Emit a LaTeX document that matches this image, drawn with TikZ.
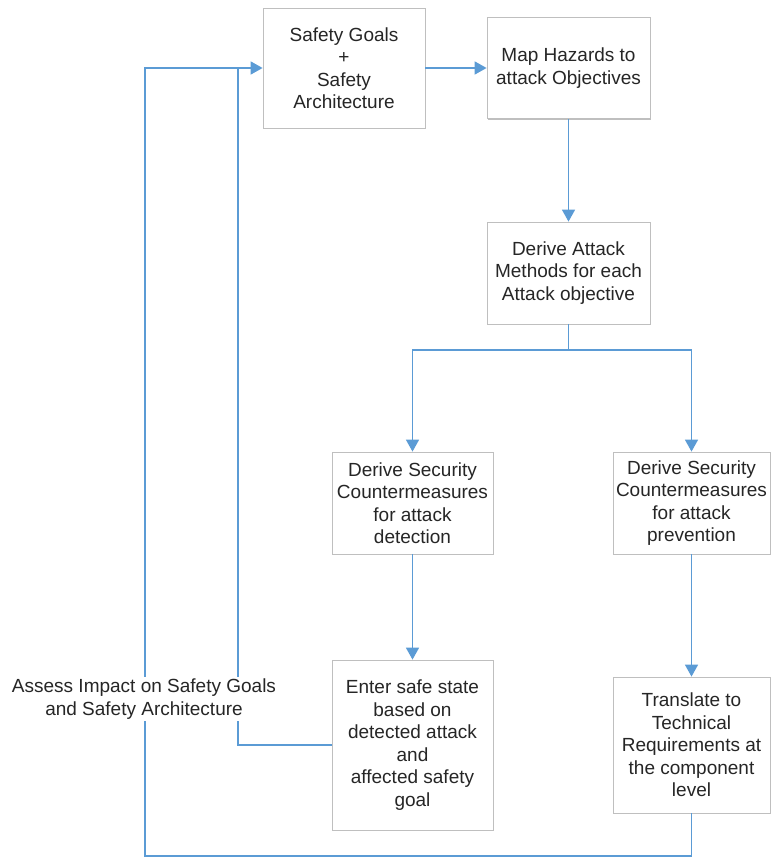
\documentclass[tikz,border=0pt]{standalone}
\usepackage{fontspec}
\setmainfont{Liberation Sans}
\usetikzlibrary{arrows.meta,shadows,calc}
\definecolor{flow}{HTML}{5B9BD5}
\definecolor{frame}{HTML}{BFBFBF}
\definecolor{ink}{HTML}{262626}

\begin{document}
\begin{tikzpicture}[x=1pt,y=-1pt,
  stepbox/.style={draw=frame, line width=0.8pt, fill=white, align=center,
    text=ink, font=\fontsize{19}{22.5}\selectfont, inner sep=0pt,
    drop shadow={shadow xshift=1.2pt, shadow yshift=-1.2pt, opacity=0.25, fill=black}},
  flowline/.style={draw=flow, line width=1.6pt},
  arr/.style={flowline, -{Triangle[length=12pt,width=13pt]}},
  note/.style={fill=white, align=center, text=ink,
    font=\fontsize{19}{22.5}\selectfont, inner sep=2pt}]

\useasboundingbox (0,0) rectangle (771,858);

% process steps
\node[stepbox, minimum width=162pt, minimum height=120pt] (goals) at (344,68)
  {Safety Goals\\+\\Safety\\Architecture};
\node[stepbox, minimum width=163pt, minimum height=101pt] (map) at (568.5,68)
  {Map Hazards to\\attack Objectives};
\node[stepbox, minimum width=163pt, minimum height=102pt] (methods) at (568.5,273)
  {Derive Attack\\Methods for each\\Attack objective};
\node[stepbox, minimum width=161pt, minimum height=102pt] (detect) at (412.5,503)
  {Derive Security\\Countermeasures\\for attack\\detection};
\node[stepbox, minimum width=157pt, minimum height=102pt] (prevent) at (691.5,503)
  {Derive Security\\Countermeasures\\for attack\\prevention};
\node[stepbox, minimum width=161pt, minimum height=170pt] (safe) at (412.5,745)
  {Enter safe state\\based on\\detected attack\\and\\affected safety\\goal};
\node[stepbox, minimum width=157pt, minimum height=136pt] (translate) at (691.5,745)
  {Translate to\\Technical\\Requirements at\\the component\\level};

% junction points of the feedback loops
\coordinate (split) at (568.5,350);
\coordinate (innerup) at (238,68);
\coordinate (outerup) at (145,68);
\coordinate (outerdown) at (145,856);

% forward flow
\draw[arr] (goals.east) -- (map.west);
\draw[arr] (map.south) -- (methods.north);
\draw[flowline] (methods.south) -- (split);
\draw[arr] (split) -| (detect.north);
\draw[arr] (split) -| (prevent.north);
\draw[arr] (detect.south) -- (safe.north);
\draw[arr] (prevent.south) -- (translate.north);

% feedback to the safety goals
\draw[flowline] (safe.west) -| (innerup);
\draw[flowline] (translate.south) |- (outerdown) -- (outerup) -- (innerup);
\draw[arr] (innerup) -- (goals.west);

\node[note] (assess) at (144,699)
  {Assess Impact on Safety Goals\\and Safety Architecture};
\end{tikzpicture}
\end{document}
